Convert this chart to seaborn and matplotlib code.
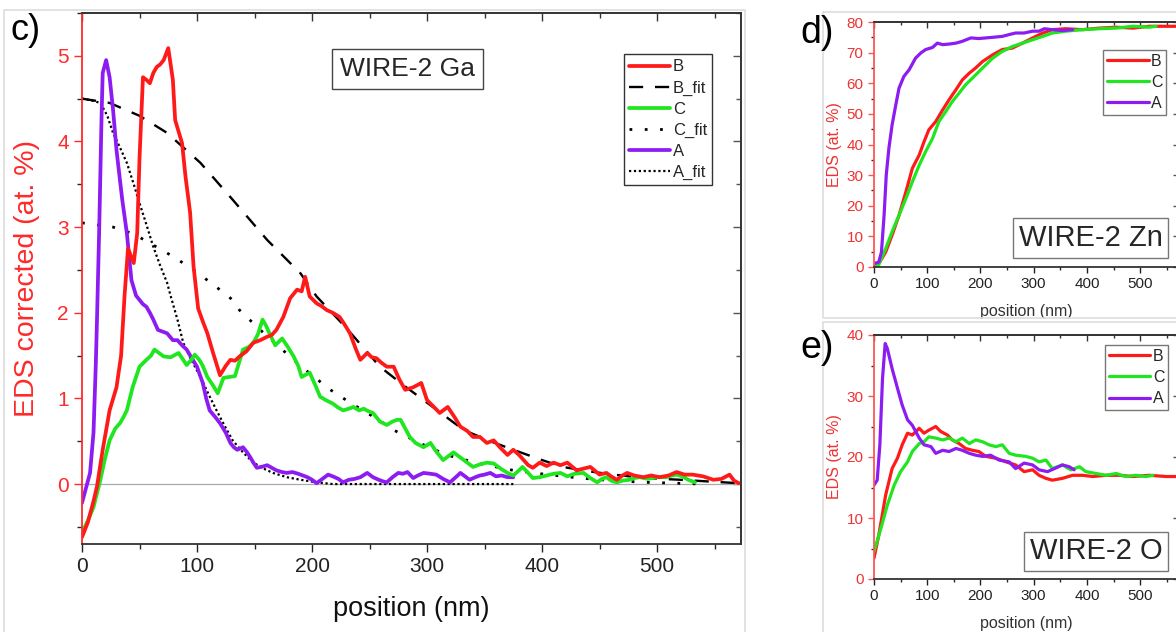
import numpy as np
import pandas as pd
import matplotlib
matplotlib.use("Agg")
import matplotlib.pyplot as plt
from matplotlib.ticker import MultipleLocator
from matplotlib.patches import Rectangle
import seaborn as sns

# ---- panel c: Ga profiles (position nm, EDS corrected at.%) ----
ga_b_x = [0, 5, 10, 13, 18, 24, 30, 34, 37, 40, 45, 48, 50, 53, 56, 59, 62, 65, 68, 71, 75, 79, 81, 87, 90, 94, 97,
          101, 105, 109, 114, 120, 125, 129, 133, 137, 143, 149, 155, 161, 165, 169, 175, 181, 187, 191, 194, 198,
          204, 208, 213, 218, 224, 228, 233, 238, 242, 248, 252, 256, 260, 265, 271, 276, 281, 288, 295, 300, 306,
          311, 318, 324, 329, 335, 340, 346, 352, 358, 364, 370, 375, 380, 384, 388, 392, 398, 404, 410, 416, 422,
          430, 436, 442, 450, 456, 460, 465, 470, 474, 480, 488, 495, 502, 510, 517, 524, 531, 540, 549, 556, 563,
          567, 571]
ga_b_y = [-0.62, -0.45, -0.2, -0.03, 0.4, 0.86, 1.13, 1.5, 2.2, 2.75, 2.58, 2.93, 3.8, 4.75, 4.72, 4.68, 4.8, 4.87,
          4.9, 4.95, 5.09, 4.72, 4.25, 3.98, 3.59, 3.17, 2.54, 2.05, 1.9, 1.76, 1.53, 1.27, 1.38, 1.45, 1.44, 1.49,
          1.55, 1.65, 1.68, 1.72, 1.74, 1.8, 1.95, 2.17, 2.27, 2.25, 2.42, 2.19, 2.11, 2.08, 2.03, 2.0, 1.95, 1.87,
          1.76, 1.58, 1.45, 1.53, 1.48, 1.47, 1.42, 1.37, 1.37, 1.22, 1.10, 1.13, 1.18, 0.98, 0.9, 0.83, 0.9, 0.78,
          0.67, 0.62, 0.55, 0.55, 0.48, 0.51, 0.42, 0.34, 0.40, 0.34, 0.28, 0.22, 0.19, 0.25, 0.21, 0.25, 0.22,
          0.25, 0.16, 0.18, 0.2, 0.11, 0.13, 0.09, 0.05, 0.1, 0.13, 0.1, 0.08, 0.1, 0.08, 0.1, 0.14, 0.11, 0.11,
          0.09, 0.05, 0.06, 0.11, 0.04, 0.01]

ga_c_x = [0, 5, 10, 16, 20, 24, 29, 33, 36, 39, 44, 50, 56, 60, 63, 67, 71, 77, 84, 88, 91, 95, 98, 102, 105, 109,
          114, 118, 123, 128, 133, 140, 145, 149, 153, 157, 160, 163, 168, 174, 179, 184, 188, 191, 195, 198, 203,
          207, 212, 218, 222, 227, 232, 236, 241, 245, 249, 253, 259, 265, 270, 274, 277, 281, 285, 290, 297, 303,
          308, 314, 319, 323, 328, 332, 336, 340, 346, 352, 358, 364, 370, 375, 380, 383, 388, 392, 398, 404, 410,
          416, 422, 428, 436, 442, 448, 452, 456, 460, 465, 470, 476, 480, 485, 492, 500, 508, 513, 517, 522, 527,
          533]
ga_c_y = [-0.57, -0.43, -0.27, 0.05, 0.3, 0.51, 0.65, 0.71, 0.78, 0.86, 1.13, 1.37, 1.45, 1.5, 1.57, 1.53, 1.49,
          1.48, 1.53, 1.45, 1.39, 1.45, 1.51, 1.45, 1.38, 1.25, 1.15, 1.06, 1.24, 1.25, 1.26, 1.57, 1.6, 1.65, 1.75,
          1.92, 1.85, 1.76, 1.62, 1.7, 1.6, 1.49, 1.38, 1.25, 1.28, 1.3, 1.15, 1.02, 0.98, 0.94, 0.9, 0.86, 0.88,
          0.9, 0.86, 0.88, 0.85, 0.83, 0.73, 0.69, 0.73, 0.75, 0.75, 0.65, 0.55, 0.48, 0.43, 0.48, 0.38, 0.28,
          0.33, 0.37, 0.32, 0.28, 0.24, 0.2, 0.23, 0.25, 0.24, 0.18, 0.13, 0.1, 0.16, 0.2, 0.13, 0.07, 0.08, 0.1,
          0.12, 0.13, 0.09, 0.12, 0.13, 0.07, 0.02, 0.06, 0.08, 0.04, 0.02, 0.04, 0.05, 0.07, 0.08, 0.06, 0.08,
          0.08, 0.1, 0.11, 0.09, 0.05, 0.02]

ga_a_x = [0, 4, 7, 10, 12, 13, 15, 17, 18, 21, 24, 27, 30, 33, 35, 39, 43, 47, 50, 53, 56, 59, 62, 66, 70, 74, 79,
          83, 87, 91, 95, 100, 105, 108, 111, 116, 120, 125, 129, 132, 135, 140, 143, 146, 149, 152, 156, 161, 165,
          169, 174, 178, 183, 188, 192, 196, 200, 204, 209, 214, 218, 223, 227, 232, 237, 242, 248, 253, 258, 262,
          265, 270, 275, 279, 283, 288, 292, 297, 303, 308, 314, 320, 325, 329, 333, 337, 342, 346, 350, 355, 360,
          365, 370, 375]
ga_a_y = [-0.22, -0.02, 0.13, 0.6, 1.4, 1.9, 3.0, 4.29, 4.8, 4.95, 4.75, 4.37, 3.9, 3.55, 3.32, 2.93, 2.38, 2.2,
          2.15, 2.1, 2.07, 2.0, 1.92, 1.8, 1.78, 1.76, 1.68, 1.68, 1.62, 1.57, 1.48, 1.37, 1.18, 1.0, 0.86, 0.78,
          0.71, 0.6, 0.48, 0.43, 0.4, 0.43, 0.38, 0.32, 0.25, 0.19, 0.2, 0.22, 0.19, 0.16, 0.14, 0.13, 0.14, 0.12,
          0.1, 0.08, 0.05, 0.01, 0.06, 0.11, 0.09, 0.06, 0.02, 0.05, 0.06, 0.08, 0.13, 0.08, 0.05, 0.03, 0.02,
          0.08, 0.13, 0.12, 0.14, 0.07, 0.1, 0.13, 0.12, 0.11, 0.06, 0.02, 0.08, 0.13, 0.09, 0.05, 0.08, 0.1, 0.11,
          0.13, 0.09, 0.1, 0.08, 0.08]

fit_b_x = [0, 24, 50, 74, 103, 131, 161, 190, 204, 230, 259, 280, 297, 315, 332, 355, 375, 400, 418, 440, 462, 490,
           520, 545, 571]
fit_b_y = [4.5, 4.45, 4.3, 4.1, 3.75, 3.32, 2.85, 2.46, 2.19, 1.82, 1.37, 1.15, 0.98, 0.8, 0.63, 0.5, 0.4, 0.28,
           0.2, 0.15, 0.11, 0.07, 0.05, 0.03, 0.01]

fit_c_x = [0, 27, 45, 62, 80, 97, 115, 131, 137, 155, 170, 184, 200, 216, 232, 248, 260, 271, 295, 317, 345, 375,
           405, 433, 460, 491, 515, 540]
fit_c_y = [3.05, 3.0, 2.92, 2.79, 2.65, 2.5, 2.32, 2.15, 2.03, 1.8, 1.62, 1.45, 1.27, 1.1, 0.96, 0.83, 0.73, 0.63,
           0.47, 0.34, 0.24, 0.16, 0.11, 0.07, 0.04, 0.02, 0.01, 0.0]

fit_a_x = [0, 8, 16, 22, 27, 33, 39, 45, 50, 56, 62, 68, 74, 77, 83, 88, 95, 103, 110, 117, 124, 131, 140, 149,
           158, 166, 178, 190, 204, 218, 250, 300, 340, 375]
fit_a_y = [4.5, 4.48, 4.45, 4.3, 4.1, 3.93, 3.75, 3.5, 3.28, 3.03, 2.77, 2.55, 2.35, 2.2, 1.92, 1.65, 1.45, 1.25,
           1.05, 0.86, 0.68, 0.51, 0.37, 0.25, 0.18, 0.13, 0.08, 0.05, 0.02, 0.0, 0.0, 0.0, 0.0, 0.0]

# ---- panel d: Zn (position nm, EDS at.%) ----
zn_a_x = [0, 9, 14, 19, 23, 28, 34, 41, 47, 56, 66, 78, 88, 97, 110, 119, 129, 141, 154, 166, 182, 197, 210, 223,
          241, 254, 266, 282, 298, 310, 320, 335, 354, 373]
zn_a_y = [1.1, 1.6, 4.9, 17, 30, 38.8, 46.4, 53, 58.4, 62.2, 64.4, 68.2, 69.9, 71, 71.7, 73.1, 72.6, 72.8, 73.1,
          73.7, 74.8, 74.6, 74.8, 75, 75.3, 75.9, 76.4, 76.4, 77, 77, 77.8, 77.5, 77.2, 77.5]
zn_b_x = [0, 9, 22, 34, 47, 60, 72, 85, 94, 103, 116, 129, 141, 154, 166, 179, 191, 204, 223, 241, 260, 279, 298,
          317, 335, 360, 392, 423, 455, 486, 517, 549, 567, 573]
zn_b_y = [0, 1.1, 4.9, 10.4, 16.9, 24.6, 32.2, 36.6, 40.9, 44.8, 47.5, 51.3, 54.6, 57.9, 61.1, 63.3, 65, 67.1,
          69.3, 71, 71.5, 73.1, 74.8, 76.4, 77.5, 77.8, 77.5, 78, 78.3, 78, 78.6, 78.6, 78.6, 78.4]
zn_c_x = [0, 9, 22, 34, 47, 60, 72, 85, 97, 110, 122, 135, 147, 160, 172, 185, 204, 223, 241, 260, 279, 298, 317,
          335, 360, 392, 423, 455, 486, 517, 530]
zn_c_y = [0, 0.8, 6, 11.5, 16.9, 22.4, 27.8, 33.3, 37.7, 42, 47.5, 50.8, 54, 56.8, 59.5, 61.7, 65, 68.2, 70.4,
          72, 73.1, 74.2, 75.3, 76.4, 77, 77.5, 77.8, 78, 78.6, 78.3, 78.6]

# ---- panel e: O ----
o_a_x = [0, 6, 11, 16, 21, 25, 34, 44, 53, 63, 72, 85, 94, 107, 116, 129, 141, 154, 166, 179, 191, 204, 219, 235,
         254, 266, 282, 298, 310, 326, 339, 354, 367, 376]
o_a_y = [15.4, 16.2, 22, 32.9, 38.6, 37.8, 34.5, 31.3, 28.5, 26.1, 25.2, 23.1, 22, 21.7, 20.6, 21.1, 20.9, 21.4,
         21.1, 20.6, 20.3, 20.1, 20.3, 19.5, 19.2, 18.1, 19, 18.7, 17.9, 17.6, 18.1, 18.7, 18.4, 17.9]
o_b_x = [0, 9, 22, 34, 44, 53, 63, 72, 85, 94, 103, 116, 125, 138, 147, 160, 172, 185, 197, 210, 229, 248, 266,
         282, 298, 310, 323, 335, 354, 373, 392, 411, 436, 461, 486, 517, 549, 567, 573]
o_b_y = [3.4, 7.2, 13.8, 18.1, 19.8, 22, 23.9, 23.6, 24.7, 23.9, 24.4, 25, 24.2, 23.6, 22.8, 22.2, 21.4, 21.1,
         20.9, 20.1, 19.8, 19.2, 18.7, 17.6, 17.9, 17, 16.5, 16.2, 16.5, 17, 17, 16.8, 17, 17, 16.8, 17, 16.8,
         16.8, 16.7]
o_c_x = [0, 13, 25, 38, 50, 63, 72, 85, 94, 103, 116, 129, 141, 154, 166, 179, 191, 204, 216, 229, 241, 254, 266,
         285, 298, 310, 323, 335, 354, 370, 386, 398, 417, 436, 455, 473, 492, 511, 524]
o_c_y = [4.5, 8.3, 12.1, 15.4, 17.6, 19.2, 20.9, 22.2, 22.5, 23.3, 23.1, 22.8, 23.1, 22.5, 23.1, 22.2, 22.8, 22.5,
         22, 21.7, 22, 20.6, 20.3, 20.1, 19.8, 19.2, 19.5, 18.1, 18.7, 17.9, 18.4, 17.6, 17.3, 17, 17.3, 16.8, 17,
         16.8, 17]

RED = "#ff1a1a"
GREEN = "#1fe61f"
PURPLE = "#8c1cf2"
AXRED = "#ff2a2a"

sns.set_theme(style="ticks")
plt.rcParams["font.family"] = ["Liberation Sans", "DejaVu Sans"]

fig = plt.figure(figsize=(11.76, 6.32), dpi=100)
W, H = 1176, 632


def px_axes(x0, y0, x1, y1):
    return fig.add_axes([x0 / W, 1 - y1 / H, (x1 - x0) / W, (y1 - y0) / H])


def line(ax, x, y, color, lw, ls="-", label=None):
    sns.lineplot(x=x, y=y, ax=ax, color=color, lw=lw, linestyle=ls, sort=False,
                 errorbar=None, label=label, legend=False)
    return ax.lines[-1]


def style_axes(ax, xmaj, xmin, ymaj, ymin, fs, tcol, lcol, tlen):
    ax.xaxis.set_major_locator(MultipleLocator(xmaj))
    ax.xaxis.set_minor_locator(MultipleLocator(xmin))
    ax.yaxis.set_major_locator(MultipleLocator(ymaj))
    ax.yaxis.set_minor_locator(MultipleLocator(ymin))
    ax.tick_params(axis="both", which="major", direction="out", length=tlen, width=1, labelsize=fs)
    ax.tick_params(axis="both", which="minor", direction="out", length=tlen * 0.55, width=1)
    ax.tick_params(axis="y", colors=lcol, labelcolor=tcol)
    ax.tick_params(axis="x", colors="#222222", labelcolor="#222222")
    ax.spines["left"].set_color(lcol)
    ax.spines["left"].set_linewidth(1.3)
    for s in ["bottom", "top", "right"]:
        ax.spines[s].set_color("#333333")
        ax.spines[s].set_linewidth(1.3)
    ax.spines["top"].set_visible(True)
    ax.spines["right"].set_visible(True)
    # mirrored ticks pointing inward
    top = ax.secondary_xaxis("top")
    top.xaxis.set_major_locator(MultipleLocator(xmaj))
    top.xaxis.set_minor_locator(MultipleLocator(xmin))
    top.tick_params(which="major", direction="in", length=tlen, width=1, labeltop=False, colors="#333333")
    top.tick_params(which="minor", direction="in", length=tlen * 0.55, width=1, colors="#333333")
    right = ax.secondary_yaxis("right")
    right.yaxis.set_major_locator(MultipleLocator(ymaj))
    right.yaxis.set_minor_locator(MultipleLocator(ymin))
    right.tick_params(which="major", direction="in", length=tlen, width=1, labelright=False, colors="#555555")
    right.tick_params(which="minor", direction="in", length=tlen * 0.55, width=1, colors="#555555")
    for sec in (top, right):
        for s in sec.spines.values():
            s.set_color("#555555")
            s.set_linewidth(1.3)


# faint frames of the original sub-images
for (x0, y0, x1, y1) in [(4, 10, 745, 640), (823, 12, 1180, 318), (823, 322, 1180, 640)]:
    fig.add_artist(Rectangle((x0 / W, 1 - y1 / H), (x1 - x0) / W, (y1 - y0) / H, transform=fig.transFigure,
                             fill=False, edgecolor="#dddddd", lw=1.2))

# ---------------- panel c ----------------
axc = px_axes(82, 13, 741, 544)
axc.set_facecolor("white")
axc.axhline(0, color="#aaaaaa", lw=0.9, zorder=1)
hc = {}
hc["A_fit"] = line(axc, fit_a_x, fit_a_y, "black", 1.6, (0, (1, 1.2)), "A_fit")
hc["C_fit"] = line(axc, fit_c_x, fit_c_y, "black", 2.0, (0, (1, 4.5)), "C_fit")
hc["B_fit"] = line(axc, fit_b_x, fit_b_y, "black", 1.7, (0, (6, 5)), "B_fit")
hc["A"] = line(axc, ga_a_x, ga_a_y, PURPLE, 2.7, "-", "A")
hc["C"] = line(axc, ga_c_x, ga_c_y, GREEN, 2.7, "-", "C")
hc["B"] = line(axc, ga_b_x, ga_b_y, RED, 2.7, "-", "B")
axc.set_xlim(0, 573)
axc.set_ylim(-0.7, 5.5)
style_axes(axc, 100, 50, 1, 0.5, 15, AXRED, AXRED, 6)
axc.set_xlabel("position (nm)", fontsize=19.5, color="#111111", labelpad=14)
axc.set_ylabel("EDS corrected (at. %)", fontsize=20.5, color=AXRED, labelpad=12)
order = ["B", "B_fit", "C", "C_fit", "A", "A_fit"]
leg = axc.legend([hc[k] for k in order], order, loc="upper left", bbox_to_anchor=(0.822, 0.922),
                 fontsize=12, frameon=True, fancybox=False, framealpha=1, edgecolor="#333333",
                 handlelength=2.5, handletextpad=0.15, labelspacing=0.36, borderpad=0.3, borderaxespad=0)
leg.get_frame().set_linewidth(1.0)
axc.text(0.392, 0.895, "WIRE-2 Ga", transform=axc.transAxes, fontsize=19, ha="left", va="center",
         bbox=dict(boxstyle="square,pad=0.3", fc="white", ec="#444444", lw=1.0))
fig.text(10 / W, 1 - 30 / H, "c)", fontsize=26, ha="left", va="center", color="black")


# ---------------- panels d and e ----------------
def small_panel(y0, y1, a_x, a_y, b_x, b_y, c_x, c_y, ymax, ymaj, ymin, name, box_y, leg_anchor):
    ax = px_axes(874, y0, 1179, y1)
    hb = line(ax, b_x, b_y, RED, 2.3, "-", "B")
    hcc = line(ax, c_x, c_y, GREEN, 2.3, "-", "C")
    ha = line(ax, a_x, a_y, PURPLE, 2.3, "-", "A")
    ax.set_xlim(0, 573)
    ax.set_ylim(0, ymax)
    style_axes(ax, 100, 50, ymaj, ymin, 11, "#ee3333", "#ff5555", 4)
    ax.set_xlabel("position (nm)", fontsize=11.5, color="#333333", labelpad=9)
    ax.set_ylabel("EDS (at. %)", fontsize=11.5, color="#ee3333", labelpad=3)
    lg = ax.legend([hb, hcc, ha], ["B", "C", "A"], loc="upper left", bbox_to_anchor=leg_anchor, fontsize=11.5,
                   frameon=True, fancybox=False, framealpha=1, edgecolor="#777777", handlelength=2.6,
                   handletextpad=0.15, labelspacing=0.38, borderpad=0.25, borderaxespad=0)
    lg.get_frame().set_linewidth(1.0)
    ax.text(0.946, box_y, name, transform=ax.transAxes, fontsize=21, ha="right", va="center",
            bbox=dict(boxstyle="square,pad=0.2", fc="white", ec="#777777", lw=1.0))
    return ax


axd = small_panel(22, 267, zn_a_x, zn_a_y, zn_b_x, zn_b_y, zn_c_x, zn_c_y, 80, 10, 5, "WIRE-2 Zn",
                  0.118, (0.751, 0.886))
axe = small_panel(335, 579, o_a_x, o_a_y, o_b_x, o_b_y, o_c_x, o_c_y, 40, 10, 5, "WIRE-2 O",
                  0.113, (0.757, 0.959))
fig.text(800 / W, 1 - 33 / H, "d)", fontsize=27, ha="left", va="center", color="black")
fig.text(800 / W, 1 - 348 / H, "e)", fontsize=27, ha="left", va="center", color="black")

fig.savefig("out.png", dpi=100)
